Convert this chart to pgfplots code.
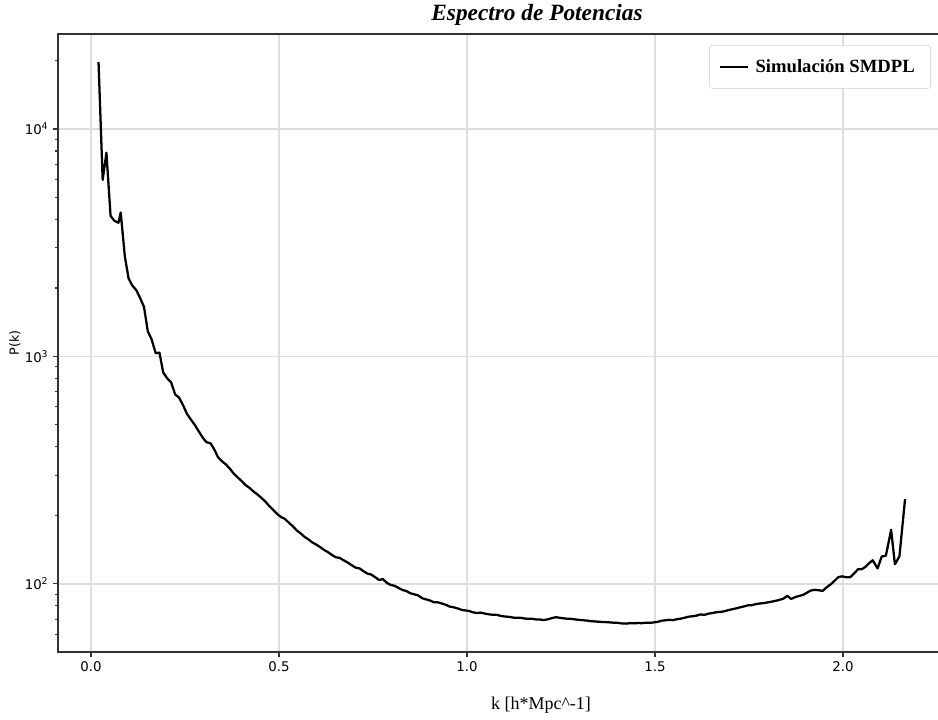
\documentclass[border=0pt]{standalone}
\usepackage{fontspec}
\setmainfont{Liberation Serif}
\newfontfamily\dejavu{DejaVu Sans}
\usepackage{pgfplots}
\pgfplotsset{compat=1.18}
\begin{document}
\begin{tikzpicture}
\begin{axis}[
  scale only axis,
  width=666.75pt, height=463.5pt,
  anchor=south west, at={(0,0)},
  xmin=-0.0878, xmax=2.2766,
  ymode=log, ymin=50.2, ymax=26160,
  axis line style={draw=black!80, line width=1pt},
  xtick={0,0.5,1,1.5,2},
  xticklabels={0.0,0.5,1.0,1.5,2.0},
  ytick={100,1000,10000},
  yticklabels={10\textsuperscript{2},10\textsuperscript{3},10\textsuperscript{4}},
  minor ytick={60,70,80,90,200,300,400,500,600,700,800,900,2000,3000,4000,5000,6000,7000,8000,9000,20000},
  xtick pos=lower, ytick pos=left,
  tick align=outside,
  major tick length=3.7pt, minor tick length=2pt,
  every tick/.style={black!80, line width=0.8pt},
  tick label style={font=\dejavu\fontsize{10}{12}\selectfont},
  /pgf/number format/assume math mode=true,
  grid=major,
  major grid style={draw=black!13, line width=0.9pt},
  minor grid style={draw=none},
  title={\bfseries\itshape\fontsize{17.5}{20}\selectfont Espectro de Potencias},
  every axis title/.style={at={(axis description cs:0.5388,1.0307)}, anchor=center},
  xlabel={k [h*Mpc\textasciicircum-1]},
  xlabel style={at={(axis description cs:0.5433,-0.0858)}, anchor=center, font=\fontsize{13.5}{16}\selectfont},
  ylabel={P(k)},
  every axis y label/.style={at={(axis description cs:-0.0484,0.5)}, rotate=90, anchor=center, font=\dejavu\fontsize{9.5}{11}\selectfont},
  legend style={at={(axis description cs:0.982,0.982)}, anchor=north east, draw=black!20, rounded corners=2pt,
    font=\bfseries\fontsize{14}{16}\selectfont, inner xsep=7pt, inner ysep=8.5pt},
  legend image code/.code={\draw[line width=1.6pt,black] (0pt,0pt) -- (21pt,0pt);},
  legend cell align=left,
  legend style={nodes={inner xsep=5pt}},
]
\addplot[black, line width=1.7pt, line join=round] table {
0.020 19700
0.031 5970
0.041 7870
0.052 4150
0.062 3950
0.073 3870
0.079 4290
0.090 2750
0.100 2200
0.110 2050
0.121 1950
0.131 1800
0.141 1650
0.151 1290
0.161 1191
0.172 1033
0.182 1040
0.192 850
0.203 800
0.213 770
0.224 680
0.234 660
0.245 610
0.255 560
0.265 530
0.276 500
0.286 470
0.297 440
0.307 420
0.318 415
0.328 390
0.338 360
0.349 345
0.359 335
0.370 320
0.380 305
0.391 293
0.401 283
0.411 272
0.422 264
0.432 255
0.443 247
0.453 239
0.464 230
0.474 220
0.484 212
0.495 203
0.505 197
0.516 193
0.526 186
0.537 179
0.547 172
0.557 167
0.568 161
0.578 157
0.589 152
0.599 149
0.610 145
0.620 141
0.630 138
0.641 134
0.651 131
0.662 130
0.672 127
0.683 124
0.693 121
0.703 118
0.714 117
0.724 114
0.735 111
0.745 110
0.756 107
0.766 104
0.776 105
0.787 101
0.797 99
0.808 98
0.818 96
0.829 94
0.839 93
0.849 91
0.860 90
0.870 89
0.881 86.5
0.891 85.5
0.902 84.5
0.912 83
0.922 83
0.933 82
0.943 81
0.954 79.5
0.964 79
0.975 78
0.985 77
0.995 76.5
1.006 76
1.016 75
1.027 74.5
1.037 74.8
1.048 74
1.058 73.5
1.068 73.2
1.079 73.1
1.089 72.4
1.100 71.9
1.110 71.7
1.121 71.2
1.131 70.9
1.141 71.0
1.152 70.5
1.162 70.2
1.173 70.3
1.183 69.8
1.194 69.7
1.204 69.4
1.215 69.9
1.225 70.7
1.236 71.4
1.246 71.0
1.256 70.6
1.267 70.3
1.277 70.2
1.288 69.8
1.298 69.5
1.309 69.2
1.319 69.0
1.329 68.6
1.340 68.4
1.350 68.2
1.361 68.0
1.371 67.9
1.382 67.7
1.392 67.5
1.402 67.4
1.413 67.0
1.423 66.9
1.434 67.2
1.444 67.1
1.455 67.3
1.465 67.2
1.475 67.5
1.486 67.4
1.496 67.7
1.507 68.1
1.517 68.9
1.528 69.2
1.538 69.5
1.548 69.3
1.559 70.0
1.569 70.4
1.580 71.1
1.590 71.8
1.601 72.1
1.611 72.6
1.621 73.4
1.632 73.1
1.642 74.0
1.653 74.5
1.663 75.1
1.674 75.3
1.684 75.8
1.694 76.6
1.705 77.4
1.715 78.0
1.726 78.9
1.736 79.6
1.747 80.5
1.757 80.6
1.767 81.4
1.778 82.0
1.788 82.3
1.799 82.9
1.809 83.5
1.820 84.2
1.830 85.0
1.841 86.1
1.852 88.6
1.862 85.9
1.873 87.5
1.883 88.5
1.894 89.5
1.904 91.5
1.914 93.5
1.925 94.2
1.935 93.8
1.946 93.2
1.956 96.5
1.967 99.5
1.977 103
1.987 107
1.998 108
2.008 107
2.019 107
2.029 111
2.040 116
2.050 116
2.060 119
2.071 124
2.079 127
2.092 117
2.103 132
2.114 133
2.128 173
2.138 122
2.150 132
2.165 236
};
\addlegendentry{Simulación SMDPL}
\end{axis}
\pgfresetboundingbox
\path (-43.5pt,-51pt) rectangle (660pt,489pt);
\end{tikzpicture}
\end{document}
